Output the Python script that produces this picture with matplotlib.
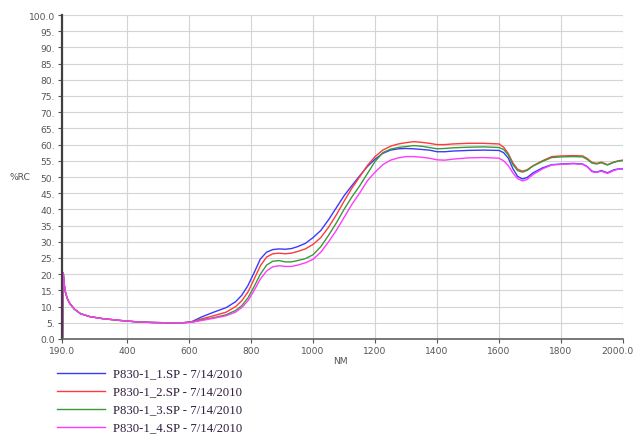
import matplotlib
matplotlib.use("Agg")
import matplotlib.pyplot as plt
from matplotlib.lines import Line2D
from matplotlib.transforms import ScaledTranslation

# wavelength grid (nm) shared by the four scans
wavelength = [192, 194, 197, 201, 207, 215, 230, 250, 280, 320, 380, 430, 480, 530, 580, 610,
              640, 680, 720, 750, 770, 790, 810, 830, 850, 870, 890, 910, 930, 950, 975,
              1000, 1025, 1050, 1075, 1100, 1125, 1150, 1175, 1200, 1225, 1250, 1275, 1300,
              1325, 1350, 1375, 1400, 1425, 1450, 1500, 1550, 1600, 1615, 1630, 1645, 1660,
              1675, 1690, 1710, 1740, 1770, 1800, 1840, 1870, 1885, 1900, 1915, 1930, 1950,
              1970, 1985, 2000]

uv_part = [0.0, 20.5, 17.0, 14.5, 12.5, 11.0, 9.2, 7.8, 6.9, 6.3, 5.7, 5.3, 5.1, 5.0, 5.0]

scan1 = uv_part + [5.4,
                   6.8, 8.3, 9.7, 11.5, 13.5, 16.5, 20.5, 24.7, 26.8, 27.6, 27.8, 27.7, 27.9, 28.5, 29.5,
                   31.3, 33.5, 36.8, 40.5, 44.2, 47.3, 50.3, 53.2, 55.5, 57.3, 58.3, 58.7, 58.8,
                   58.7, 58.5, 58.3, 57.8, 57.8, 58.0, 58.2, 58.3, 58.2, 57.5, 55.8, 52.5, 50.2,
                   49.4, 49.8, 51.3, 52.8, 53.8, 54.0, 54.2, 54.0, 53.2, 51.8, 51.5, 52.0, 51.3,
                   52.2, 52.5, 52.5]
scan2 = uv_part + [5.3,
                   6.2, 7.2, 8.3, 10.0, 11.8, 14.5, 18.5, 22.6, 25.3, 26.3, 26.5, 26.3, 26.5, 27.0, 27.8,
                   29.2, 31.3, 34.5, 38.3, 42.5, 46.5, 50.0, 53.5, 56.3, 58.3, 59.5, 60.2, 60.6,
                   60.9, 60.7, 60.4, 60.0, 60.0, 60.2, 60.4, 60.4, 60.2, 59.2, 57.2, 54.3, 52.4,
                   51.8, 52.2, 53.5, 55.0, 56.3, 56.5, 56.6, 56.5, 55.7, 54.5, 54.2, 54.6, 53.8,
                   54.6, 55.0, 55.2]
scan3 = uv_part + [5.2,
                   5.9, 6.6, 7.5, 8.8, 10.3, 12.7, 16.2, 20.0, 22.8, 24.0, 24.2, 23.8, 23.8, 24.2, 24.8,
                   26.0, 28.5, 32.0, 35.8, 40.0, 43.8, 47.2, 51.0, 54.8, 57.5, 58.6, 59.1, 59.4,
                   59.7, 59.5, 59.1, 58.7, 58.8, 59.0, 59.2, 59.3, 59.1, 58.5, 56.8, 53.8, 52.0,
                   51.5, 52.0, 53.4, 54.8, 56.0, 56.2, 56.3, 56.2, 55.4, 54.3, 54.0, 54.4, 53.7,
                   54.5, 54.9, 55.1]
scan4 = uv_part + [5.2,
                   5.7, 6.4, 7.2, 8.3, 9.7, 11.8, 15.0, 18.5, 21.0, 22.3, 22.6, 22.4, 22.4, 22.8, 23.5,
                   24.6, 26.8, 30.0, 33.5, 37.5, 41.5, 45.0, 48.8, 51.5, 53.8, 55.2, 55.9, 56.3,
                   56.3, 56.1, 55.8, 55.3, 55.2, 55.5, 55.9, 56.0, 55.8, 55.0, 53.5, 51.2, 49.5,
                   48.8, 49.2, 50.8, 52.5, 53.7, 53.9, 54.1, 53.9, 53.1, 51.6, 51.4, 51.8, 51.1,
                   52.0, 52.4, 52.4]

labels = ["P830-1_1.SP - 7/14/2010", "P830-1_2.SP - 7/14/2010",
          "P830-1_3.SP - 7/14/2010", "P830-1_4.SP - 7/14/2010"]
colors = ["#3a3aff", "#ff3a3a", "#3a9a3a", "#ff3aff"]

x_ticks = [190, 400, 600, 800, 1000, 1200, 1400, 1600, 1800, 2000]
x_tick_labels = ["190.0", "400", "600", "800", "1000", "1200", "1400", "1600", "1800", "2000.0"]
y_ticks = list(range(0, 101, 5))
y_tick_labels = ["0.0"] + [f"{v}." for v in y_ticks[1:-1]] + ["100.0"]

W, H = 637, 435
fig = plt.figure(figsize=(W / 100, H / 100), dpi=100)
ax = fig.add_axes([62 / W, 95 / H, 561 / W, 324 / H])

for series, col in zip([scan1, scan2, scan3, scan4], colors):
    ax.plot(wavelength, series, color=col, lw=1.0)

ax.set_xlim(190, 2000)
ax.set_ylim(0, 100)
ax.set_xticks(x_ticks)
ax.set_xticklabels(x_tick_labels)
ax.set_yticks(y_ticks)
ax.set_yticklabels(y_tick_labels)
ax.grid(True, color="#d4d4d4", lw=0.8)
ax.set_axisbelow(True)

for side in ["top", "right"]:
    ax.spines[side].set_visible(False)
ax.spines["left"].set_color("#404040")
ax.spines["left"].set_linewidth(1.6)
ax.spines["bottom"].set_color("#606060")
ax.spines["bottom"].set_linewidth(1.2)

ax.tick_params(axis="both", labelsize=6.6, labelcolor="#555555", color="#555555",
               length=3, width=0.8, pad=2)

# last x label sits at the right edge; nudge it left so it stays inside the figure
last = ax.get_xticklabels()[-1]
last.set_transform(last.get_transform() + ScaledTranslation(-6 / 100, 0, fig.dpi_scale_trans))

ax.set_xlabel("NM", fontsize=6.6, color="#555555")
ax.xaxis.set_label_coords(0.496, -0.052)
ax.set_ylabel("%RC", fontsize=6.6, color="#555555", rotation=0)
ax.yaxis.set_label_coords(-0.075, 0.488)

# legend below the plot, one row per scan
for i, (col, lab) in enumerate(zip(colors, labels)):
    y = 1 - (374 + i * 18) / H
    fig.add_artist(Line2D([57 / W, 105 / W], [y, y], color=col, lw=1.0))
    fig.text(113 / W, y, lab, va="center", ha="left", fontsize=9.2,
             family="Liberation Serif", color="#302040")

fig.savefig("out.png", dpi=100)
